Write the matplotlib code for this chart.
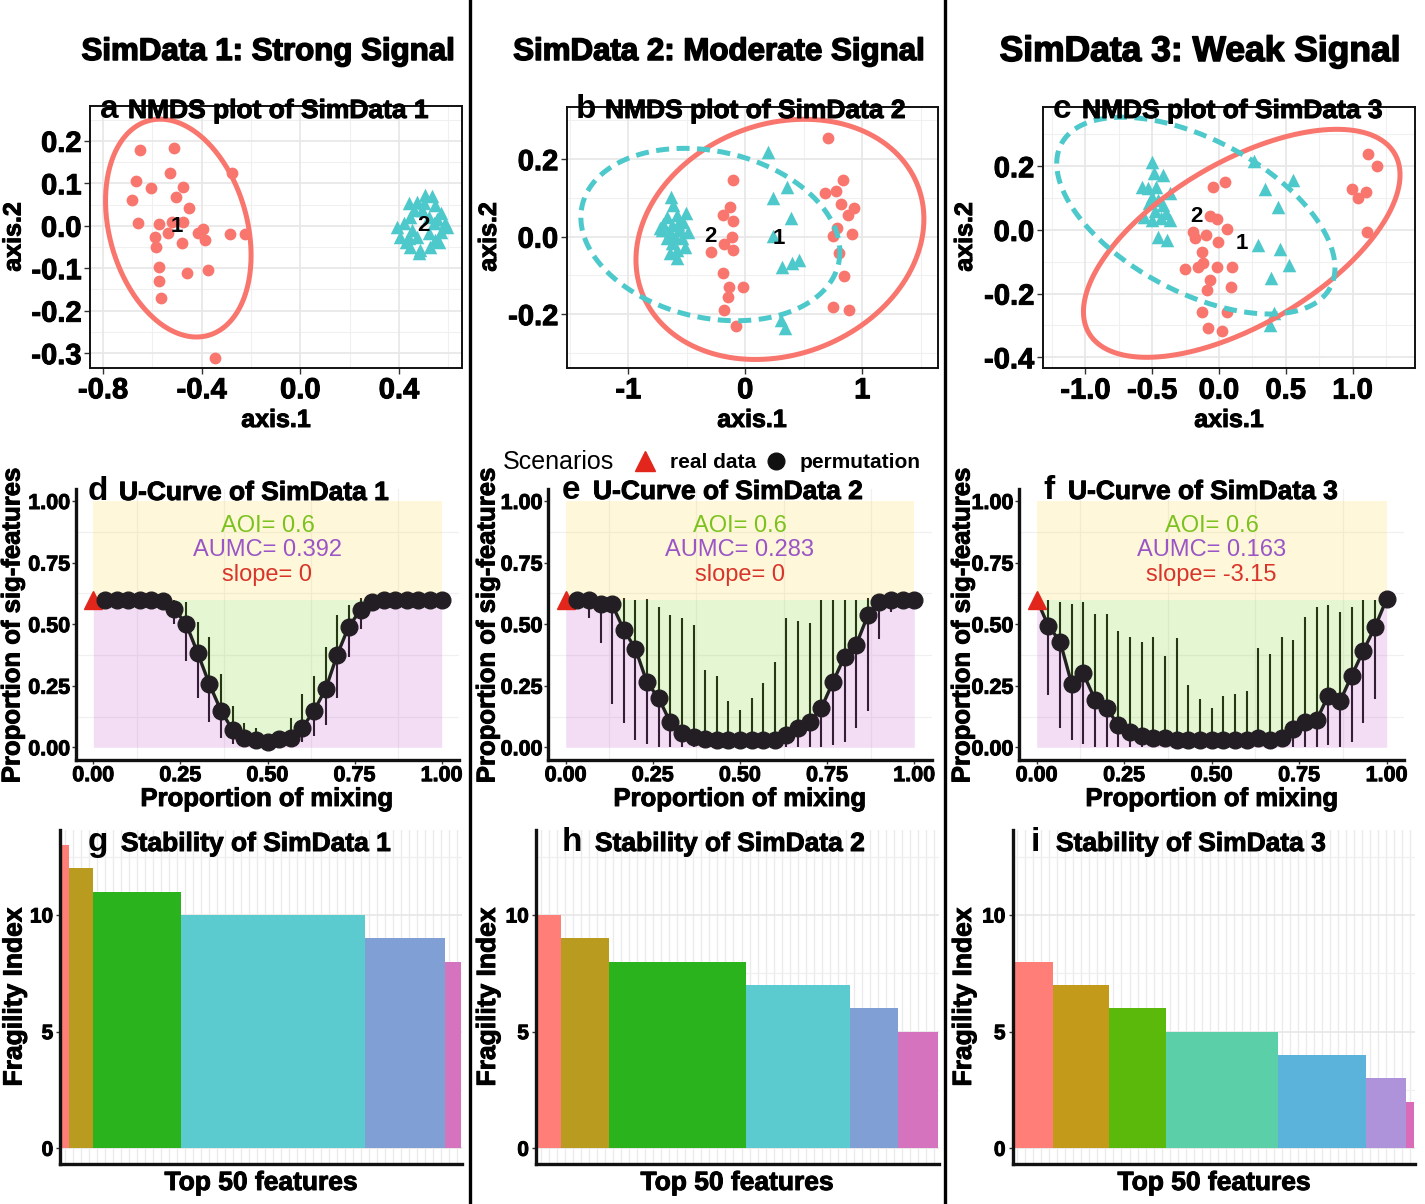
import numpy as np
import matplotlib
matplotlib.use('Agg')
import matplotlib.pyplot as plt
from matplotlib.lines import Line2D
import matplotlib.patheffects as pe

plt.rcParams['font.family'] = ['Liberation Sans', 'DejaVu Sans']
plt.rcParams['axes.unicode_minus'] = False

# ---------------- DATA ----------------
col_titles = ["SimData 1: Strong Signal", "SimData 2: Moderate Signal", "SimData 3: Weak Signal"]

# NMDS panel a
a_red_x = [-0.649, -0.514, -0.527, -0.666, -0.604, -0.476, -0.503, -0.450, -0.682, -0.658, -0.574, -0.520,
           -0.476, -0.536, -0.588, -0.584, -0.480, -0.415, -0.396, -0.388, -0.286, -0.226, -0.277, -0.573,
           -0.458, -0.374, -0.572, -0.565, -0.347]
a_red_y = [0.179, 0.183, 0.124, 0.106, 0.088, 0.091, 0.067, 0.041, 0.061, 0.007, 0.004, 0.009,
           0.009, -0.018, -0.026, -0.050, -0.040, -0.016, -0.007, -0.034, -0.020, -0.020, 0.125, -0.097,
           -0.111, -0.105, -0.130, -0.169, -0.311]
a_cyan_x = [0.507, 0.534, 0.473, 0.439, 0.547, 0.568, 0.588, 0.595, 0.568, 0.547, 0.561, 0.527, 0.486, 0.480,
            0.446, 0.426, 0.405, 0.392, 0.419, 0.446, 0.459, 0.493, 0.520, 0.541, 0.520, 0.473, 0.453, 0.500,
            0.439, 0.554]
a_cyan_y = [0.072, 0.070, 0.057, 0.053, 0.049, 0.029, 0.006, -0.002, -0.014, -0.034, -0.038, -0.050, -0.058,
            -0.065, -0.050, -0.038, -0.026, -0.002, 0.006, 0.021, 0.037, 0.037, 0.021, 0.006, -0.018, -0.026,
            -0.010, 0.053, -0.030, 0.017]
# ellipses: centre x, centre y, half-width, half-height, correlation
a_ell_red = (-0.495, -0.0055, 0.295, 0.2565, -0.25)
a_ell_cyan = None
a_labels = [("1", -0.500, -0.002), ("2", 0.497, 0.000)]

# NMDS panel b
b_red_x = [0.709, -0.103, 0.832, 0.681, 0.775, 0.815, 0.929, 0.880, -0.131, -0.194, -0.103, 0.781, 0.746,
           0.909, -0.111, -0.182, -0.103, -0.293, 0.801, -0.188, 0.843, -0.142, -0.023, -0.145, -0.182,
           0.752, 0.889, -0.083]
b_red_y = [0.254, 0.145, 0.145, 0.112, 0.119, 0.084, 0.075, 0.056, 0.077, 0.056, 0.041, 0.022, 0.003,
           0.007, -0.002, -0.019, -0.034, -0.039, -0.041, -0.093, -0.101, -0.131, -0.129, -0.157, -0.188,
           -0.181, -0.188, -0.230]
b_cyan_x = [-0.638, -0.621, -0.507, -0.672, -0.587, -0.701, -0.630, -0.573, -0.530, -0.715, -0.644, -0.558,
            -0.487, -0.601, -0.672, -0.544, -0.630, -0.516, -0.587, -0.644, -0.587, -0.729,
            0.191, 0.359, 0.239, 0.390, 0.234, 0.311, 0.396, 0.462, 0.302, 0.339]
b_cyan_y = [0.103, 0.082, 0.060, 0.052, 0.056, 0.034, 0.030, 0.034, 0.039, 0.017, 0.013, 0.017,
            0.013, 0.000, -0.004, -0.004, -0.017, -0.026, -0.034, -0.043, -0.056, 0.022,
            0.219, 0.129, 0.099, 0.049, 0.003, -0.077, -0.069, -0.060, -0.215, -0.237]
b_ell_red = (0.2965, -0.007, 1.2305, 0.310, 0.17)
b_ell_cyan = (-0.298, 0.0055, 1.107, 0.2225, -0.20)
b_labels = [("2", -0.296, 0.000), ("1", 0.288, -0.006)]

# NMDS panel c
c_red_x = [1.118, 1.185, 0.998, 1.098, 1.043, 1.105, 0.045, -0.047, -0.067, -0.017, 0.057, -0.192, -0.180,
           -0.097, -0.005, -0.125, -0.254, -0.155, -0.117, -0.017, 0.095, -0.067, -0.087, 0.087, -0.130,
           0.057, -0.085, 0.025]
c_red_y = [0.239, 0.201, 0.129, 0.120, 0.099, -0.005, 0.149, 0.136, 0.044, 0.034, 0.003, -0.005, -0.024,
           -0.016, -0.039, -0.070, -0.122, -0.115, -0.105, -0.115, -0.115, -0.157, -0.188, -0.180, -0.257,
           -0.257, -0.307, -0.316]
c_cyan_x = [-0.499, -0.484, -0.417, -0.574, -0.534, -0.474, -0.367, -0.504, -0.454, -0.524, -0.417, -0.479,
            -0.399, -0.504, -0.434, -0.367, -0.454, -0.392, -0.559,
            0.264, 0.556, 0.344, 0.439, 0.289, 0.457, 0.526, 0.387, 0.414, 0.382]
c_cyan_y = [0.213, 0.178, 0.173, 0.136, 0.131, 0.136, 0.115, 0.105, 0.094, 0.084, 0.079, 0.058,
            0.052, 0.031, 0.037, 0.031, -0.021, -0.031, 0.042,
            0.218, 0.157, 0.129, 0.071, -0.047, -0.061, -0.110, -0.150, -0.260, -0.298]
c_ell_red = (0.170, -0.042, 1.185, 0.358, 0.60)
c_ell_cyan = (-0.1735, 0.045, 1.0415, 0.309, -0.53)
c_labels = [("2", -0.167, 0.042), ("1", 0.170, -0.044)]

# U-curves
mix_perm = [0.033, 0.067, 0.100, 0.133, 0.167, 0.200, 0.233, 0.267, 0.300, 0.333,
            0.367, 0.400, 0.433, 0.467, 0.500, 0.533, 0.567, 0.600, 0.633, 0.667,
            0.700, 0.733, 0.767, 0.800, 0.833, 0.867, 0.900, 0.933, 0.967, 1.000]
mix_real = 0.0
real_val = [0.6, 0.6, 0.6]
d_perm = [0.598, 0.6, 0.6, 0.6, 0.6, 0.594, 0.561, 0.499, 0.381, 0.257, 0.147, 0.07, 0.039, 0.03, 0.02,
          0.034, 0.039, 0.08, 0.147, 0.237, 0.375, 0.49, 0.557, 0.588, 0.6, 0.6, 0.6, 0.6, 0.6, 0.6]
d_lo = [0.598, 0.6, 0.6, 0.6, 0.6, 0.594, 0.499, 0.35, 0.2, 0.104, 0.039, 0.012, 0.012, 0.01, 0.0,
        0.01, 0.012, 0.02, 0.047, 0.091, 0.2, 0.368, 0.479, 0.57, 0.6, 0.6, 0.6, 0.6, 0.6, 0.6]
d_hi = [0.598, 0.6, 0.6, 0.6, 0.6, 0.594, 0.6, 0.588, 0.507, 0.449, 0.296, 0.169, 0.1, 0.077, 0.05,
        0.064, 0.118, 0.215, 0.291, 0.409, 0.537, 0.578, 0.607, 0.6, 0.6, 0.6, 0.6, 0.6, 0.6, 0.6]
e_perm = [0.598, 0.6, 0.58, 0.58, 0.476, 0.4, 0.264, 0.199, 0.101, 0.057, 0.043, 0.034, 0.03, 0.03, 0.03,
          0.03, 0.03, 0.03, 0.05, 0.08, 0.101, 0.158, 0.266, 0.368, 0.415, 0.537, 0.591, 0.598, 0.6, 0.6]
e_lo = [0.598, 0.524, 0.422, 0.175, 0.1, 0.03, 0.014, 0.0, 0.0, 0.0, 0.0, 0.0, 0.0, 0.0, 0.0,
        0.0, 0.0, 0.0, 0.0, 0.0, 0.0, 0.0, 0.01, 0.02, 0.08, 0.147, 0.44, 0.55, 0.6, 0.6]
e_hi = [0.598, 0.6, 0.6, 0.6, 0.607, 0.598, 0.602, 0.571, 0.537, 0.524, 0.496, 0.314, 0.291, 0.188, 0.152,
        0.199, 0.262, 0.348, 0.524, 0.513, 0.503, 0.598, 0.598, 0.598, 0.598, 0.607, 0.598, 0.6, 0.6, 0.6]
f_perm = [0.494, 0.429, 0.257, 0.3, 0.192, 0.158, 0.091, 0.064, 0.047, 0.039, 0.037, 0.03, 0.03, 0.03, 0.03,
          0.03, 0.03, 0.03, 0.037, 0.03, 0.039, 0.074, 0.101, 0.111, 0.21, 0.188, 0.291, 0.391, 0.49, 0.602]
f_lo = [0.212, 0.077, 0.03, 0.012, 0.0, 0.0, 0.0, 0.0, 0.0, 0.0, 0.0, 0.0, 0.0, 0.0, 0.0,
        0.0, 0.0, 0.0, 0.0, 0.0, 0.0, 0.0, 0.0, 0.0, 0.01, 0.003, 0.02, 0.097, 0.195, 0.602]
f_hi = [0.598, 0.591, 0.58, 0.591, 0.54, 0.54, 0.472, 0.449, 0.426, 0.449, 0.372, 0.445, 0.253, 0.196, 0.158,
        0.208, 0.216, 0.229, 0.402, 0.379, 0.449, 0.436, 0.528, 0.57, 0.578, 0.548, 0.571, 0.598, 0.598, 0.602]
aoi_vals = ["0.6", "0.6", "0.6"]
aumc_vals = ["0.392", "0.283", "0.163"]
slope_vals = ["0", "0", "-3.15"]

# Stability bars: number of features per fragility level and the level
g_counts = [1, 3, 11, 23, 10, 2]
g_heights = [13, 12, 11, 10, 9, 8]
h_counts = [3, 6, 17, 13, 6, 5]
h_heights = [10, 9, 8, 7, 6, 5]
i_counts = [5, 7, 7, 14, 11, 5, 1]
i_heights = [8, 7, 6, 5, 4, 3, 2]
col6 = ['#FF7F78', '#B89B1F', '#2BB31E', '#5BCBCF', '#809FD4', '#D673BE']
col7 = ['#FF7F78', '#C49A1A', '#5BB90B', '#5BCFA8', '#5BB3DB', '#AE93DA', '#DA6BB8']

# ---------------- FIGURE ----------------
W, H = 1425, 1204
fig = plt.figure(figsize=(W / 100, H / 100), dpi=100)
fig.patch.set_facecolor('white')

RED = '#F8766D'
CYAN = '#4DC8CB'
HEAVY = [pe.withStroke(linewidth=1.1, foreground='black')]
HEAVY_S = [pe.withStroke(linewidth=0.7, foreground='black')]


def px_axes(x0, y0, x1, y1):
    return fig.add_axes([x0 / W, 1 - y1 / H, (x1 - x0) / W, (y1 - y0) / H])


def ftext(x, y, s, **kw):
    return fig.text(x / W, 1 - y / H, s, **kw)


def ellipse(ax, p, color, ls):
    cx, cy, hx, hy, rho = p
    t = np.linspace(0, 2 * np.pi, 300)
    d = np.arccos(rho)
    ax.plot(cx + hx * np.cos(t), cy + hy * np.cos(t + d), color=color, lw=3.6, ls=ls, zorder=4,
            solid_capstyle='butt')


def heavy_ticks(ax):
    for lab in ax.get_xticklabels() + ax.get_yticklabels():
        lab.set_fontweight('bold')
        lab.set_path_effects(HEAVY_S)


def nmds(rect, rx, ry, cx_, cy_, er, ec, labels, xlim, ylim, xt, xtl, yt, ytl, xm, ym):
    ax = px_axes(*rect)
    ax.set_xlim(xlim)
    ax.set_ylim(ylim)
    for v in xm:
        ax.axvline(v, color='#F0F0F0', lw=0.8, zorder=0)
    for v in ym:
        ax.axhline(v, color='#F0F0F0', lw=0.8, zorder=0)
    for v in xt:
        ax.axvline(v, color='#E8E8E8', lw=1.3, zorder=0)
    for v in yt:
        ax.axhline(v, color='#E8E8E8', lw=1.3, zorder=0)
    ax.scatter(rx, ry, s=72, c=RED, marker='o', linewidths=0, zorder=3)
    ax.scatter(cx_, cy_, s=95, c=CYAN, marker='^', linewidths=0, zorder=3)
    if er:
        ellipse(ax, er, RED, '-')
    if ec:
        ellipse(ax, ec, CYAN, (0, (2.6, 1.5)))
    for s, x, y in labels:
        ax.text(x, y, s, ha='center', va='center', fontsize=16, fontweight='bold', zorder=5)
    ax.set_xticks(xt)
    ax.set_xticklabels(xtl)
    ax.set_yticks(yt)
    ax.set_yticklabels(ytl)
    ax.tick_params(length=4, width=1, color='#333333', pad=2, labelsize=21)
    heavy_ticks(ax)
    for sp in ax.spines.values():
        sp.set_linewidth(1.4)
        sp.set_color('#111111')
    return ax


nmds((90, 106, 462, 368), a_red_x, a_red_y, a_cyan_x, a_cyan_y, a_ell_red, a_ell_cyan, a_labels,
     (-0.853, 0.655), (-0.335, 0.282),
     [-0.8, -0.4, 0.0, 0.4], ['-0.8', '-0.4', '0.0', '0.4'],
     [-0.3, -0.2, -0.1, 0.0, 0.1, 0.2], ['-0.3', '-0.2', '-0.1', '0.0', '0.1', '0.2'],
     [-0.6, -0.2, 0.2, 0.6], [-0.25, -0.15, -0.05, 0.05, 0.15, 0.25])
nmds((566.7, 106.7, 938.3, 368), b_red_x, b_red_y, b_cyan_x, b_cyan_y, b_ell_red, b_ell_cyan, b_labels,
     (-1.526, 1.65), (-0.339, 0.3355),
     [-1, 0, 1], ['-1', '0', '1'],
     [-0.2, 0.0, 0.2], ['-0.2', '0.0', '0.2'],
     [-1.5, -0.5, 0.5, 1.5], [-0.3, -0.1, 0.1, 0.3])
nmds((1042.7, 106.7, 1415, 368.3), c_red_x, c_red_y, c_cyan_x, c_cyan_y, c_ell_red, c_ell_cyan, c_labels,
     (-1.32, 1.467), (-0.4345, 0.387),
     [-1.0, -0.5, 0.0, 0.5, 1.0], ['-1.0', '-0.5', '0.0', '0.5', '1.0'],
     [-0.4, -0.2, 0.0, 0.2], ['-0.4', '-0.2', '0.0', '0.2'],
     [-1.25, -0.75, -0.25, 0.25, 0.75, 1.25], [-0.3, -0.1, 0.1, 0.3])


# U-curves
def ucurve(rect, perm, lo, hi, real, aoi, aumc, slope):
    ax = px_axes(*rect)
    ax.set_xlim(-0.05, 1.05)
    ax.set_ylim(-0.05, 1.05)
    for v in [0.125, 0.375, 0.625, 0.875]:
        ax.axvline(v, color='#F0F0F0', lw=0.9, zorder=0)
        ax.axhline(v, color='#F0F0F0', lw=0.9, zorder=0)
    xs = np.concatenate([[mix_real], mix_perm])
    ys = np.concatenate([[real], perm])
    ax.vlines(mix_perm, lo, hi, color='#000000', lw=1.5, zorder=1)
    ax.fill_between([0, 1], 0.6, 1.0, color='#FFE068', alpha=0.25, lw=0, zorder=2)
    ax.fill_between(xs, ys, 0.6, color='#94E04C', alpha=0.25, lw=0, zorder=2)
    ax.fill_between(xs, 0, ys, color='#D078D8', alpha=0.25, lw=0, zorder=2)
    ax.plot(xs, ys, color='#222222', lw=2.4, zorder=3)
    ax.plot([mix_real], [real], marker='^', ms=12.5, color='#E2261C', ls='none', zorder=4, clip_on=False)
    ax.plot(mix_perm, perm, marker='o', ms=12, color='#231E23', ls='none', zorder=5, clip_on=False)
    ax.text(0.5, 0.9, 'AOI= ' + aoi, ha='center', va='center', fontsize=17, color='#7CC21E', zorder=6)
    ax.text(0.5, 0.8, 'AUMC= ' + aumc, ha='center', va='center', fontsize=17, color='#9A55C6', zorder=6)
    ax.text(0.5, 0.7, 'slope= ' + slope, ha='center', va='center', fontsize=17, color='#D8352A', zorder=6)
    ticks = [0.0, 0.25, 0.5, 0.75, 1.0]
    tl = ['0.00', '0.25', '0.50', '0.75', '1.00']
    ax.set_xticks(ticks)
    ax.set_xticklabels(tl)
    ax.set_yticks(ticks)
    ax.set_yticklabels(tl)
    ax.tick_params(length=3, width=1, color='#333333', pad=1, labelsize=15.5)
    heavy_ticks(ax)
    for s in ['top', 'right']:
        ax.spines[s].set_visible(False)
    for s in ['left', 'bottom']:
        ax.spines[s].set_linewidth(2.4)
        ax.spines[s].set_color('#111111')
        ax.spines[s].set_zorder(7)
    return ax


ucurve((75.9, 488.7, 459.1, 759.6), d_perm, d_lo, d_hi, real_val[0], aoi_vals[0], aumc_vals[0], slope_vals[0])
ucurve((548.3, 488.7, 931.7, 759.6), e_perm, e_lo, e_hi, real_val[1], aoi_vals[1], aumc_vals[1], slope_vals[1])
ucurve((1019.2, 488.7, 1404.2, 759.6), f_perm, f_lo, f_hi, real_val[2], aoi_vals[2], aumc_vals[2], slope_vals[2])


# stability bars
def bars(rect, counts, heights, cols):
    ax = px_axes(*rect)
    vals = np.repeat(heights, counts)
    colors = np.repeat(cols, counts)
    pos = np.arange(1, len(vals) + 1)
    ax.set_xlim(0.4, 50.6)
    ax.set_ylim(-0.65, 13.65)
    for p in pos:
        ax.axvline(p, color='#EBEBEB', lw=1.0, zorder=0)
    for v in [2.5, 7.5, 12.5]:
        ax.axhline(v, color='#F0F0F0', lw=0.9, zorder=0)
    for v in [0, 5, 10]:
        ax.axhline(v, color='#E8E8E8', lw=1.3, zorder=0)
    ax.bar(pos, vals, width=1.0, color=colors, lw=0, zorder=2)
    ax.set_xticks([])
    ax.set_yticks([0, 5, 10])
    ax.set_yticklabels(['0', '5', '10'])
    ax.tick_params(axis='y', length=3, width=1, color='#333333', pad=2, labelsize=15)
    heavy_ticks(ax)
    for s in ['top', 'right']:
        ax.spines[s].set_visible(False)
    for s in ['left', 'bottom']:
        ax.spines[s].set_linewidth(2.4)
        ax.spines[s].set_color('#111111')
        ax.spines[s].set_zorder(7)
    return ax


bars((60.2, 829.8, 461.8, 1163.5), g_counts, g_heights, col6)
bars((535.9, 829.8, 939.1, 1163.5), h_counts, h_heights, col6)
bars((1012.5, 829.8, 1414.8, 1163.5), i_counts, i_heights, col7)

# ---------------- TEXT ----------------
ftext(268, 60, col_titles[0], ha='center', va='baseline', fontsize=22.5, fontweight='bold', path_effects=HEAVY)
ftext(719, 60, col_titles[1], ha='center', va='baseline', fontsize=22.5, fontweight='bold', path_effects=HEAVY)
ftext(1200, 61, col_titles[2], ha='center', va='baseline', fontsize=25.5, fontweight='bold', path_effects=HEAVY)

panel_titles = [
    (100, 128, 118, 'a', 'NMDS plot of SimData 1'),
    (576, 605, 118, 'b', 'NMDS plot of SimData 2'),
    (1053, 1082, 118, 'c', 'NMDS plot of SimData 3'),
    (88, 119, 500, 'd', 'U-Curve of SimData 1'),
    (562, 593, 499, 'e', 'U-Curve of SimData 2'),
    (1043, 1068, 499, 'f', 'U-Curve of SimData 3'),
    (88, 121, 851, 'g', 'Stability of SimData 1'),
    (562, 595, 851, 'h', 'Stability of SimData 2'),
    (1031, 1056, 851, 'i', 'Stability of SimData 3'),
]
for lx, tx, y, letter, title in panel_titles:
    ftext(lx, y, letter, ha='left', va='baseline', fontsize=24, fontweight='bold')
    ftext(tx, y, title, ha='left', va='baseline', fontsize=19, fontweight='bold', path_effects=HEAVY_S)

# axis labels
for cx in [276, 752, 1229]:
    ftext(cx, 427, 'axis.1', ha='center', va='baseline', fontsize=18, fontweight='bold', path_effects=HEAVY_S)
for x in [13.5, 489, 965]:
    ftext(x, 237, 'axis.2', ha='center', va='center', rotation=90, fontsize=18, fontweight='bold',
          path_effects=HEAVY_S)
for cx in [267, 740, 1212]:
    ftext(cx, 806, 'Proportion of mixing', ha='center', va='baseline', fontsize=18.5, fontweight='bold',
          path_effects=HEAVY_S)
for x in [12.5, 487.5, 962.5]:
    ftext(x, 625, 'Proportion of sig-features', ha='center', va='center', rotation=90, fontsize=18.5,
          fontweight='bold', path_effects=HEAVY_S)
for cx in [261, 737, 1214]:
    ftext(cx, 1190, 'Top 50 features', ha='center', va='baseline', fontsize=19, fontweight='bold',
          path_effects=HEAVY_S)
for x in [14.5, 488, 964]:
    ftext(x, 997, 'Fragility Index', ha='center', va='center', rotation=90, fontsize=19, fontweight='bold',
          path_effects=HEAVY_S)

# legend
ftext(503, 462, 'Scenarios', ha='left', va='center', fontsize=18)
fig.add_artist(Line2D([645 / W], [1 - 461 / H], marker='^', ms=14, color='#E2261C', ls='none',
                      transform=fig.transFigure))
ftext(670, 462, 'real data', ha='left', va='center', fontsize=15, fontweight='bold')
fig.add_artist(Line2D([776 / W], [1 - 461 / H], marker='o', ms=12, color='#111111', ls='none',
                      transform=fig.transFigure))
ftext(800, 462, 'permutation', ha='left', va='center', fontsize=15, fontweight='bold')

# separators
for x in [470, 945]:
    fig.add_artist(Line2D([x / W, x / W], [0, 1], color='black', lw=2.4, transform=fig.transFigure))

fig.savefig('out.png', dpi=100, facecolor='white')
